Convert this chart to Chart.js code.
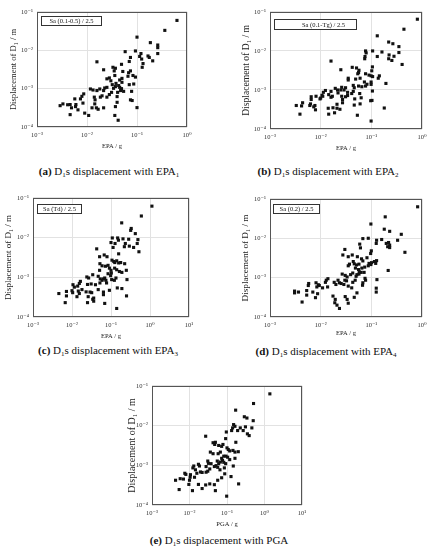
<!DOCTYPE html>
<html>
<head>
<meta charset="utf-8">
<script src="https://cdn.jsdelivr.net/npm/chart.js@4.4.1/dist/chart.umd.min.js"></script>
<style>
  body { margin: 0; background: #fff; width: 436px; height: 550px; position: relative; overflow: hidden; font-family: "Liberation Serif", "DejaVu Serif", serif; }
  canvas { position: absolute; }
  .cap { position: absolute; font-size: 11px; line-height: 13px; color: #111; white-space: nowrap; transform: translateX(-50%); }
  .cap sub { font-size: 7px; vertical-align: -2px; line-height: 0; }
</style>
</head>
<body>
<canvas id="chartA" width="188" height="146" style="left:9px;top:4px"></canvas>
<canvas id="chartB" width="191" height="148" style="left:241px;top:4px"></canvas>
<canvas id="chartC" width="196" height="150" style="left:3px;top:190px"></canvas>
<canvas id="chartD" width="192" height="146" style="left:240px;top:191px"></canvas>
<canvas id="chartE" width="186" height="150" style="left:126px;top:378px"></canvas>

<div class="cap" style="left:109px;top:165px"><b>(a)</b> D<sub>1</sub>s displacement with EPA<sub>1</sub></div>
<div class="cap" style="left:328px;top:165px"><b>(b)</b> D<sub>1</sub>s displacement with EPA<sub>2</sub></div>
<div class="cap" style="left:108px;top:344px"><b>(c)</b> D<sub>1</sub>s displacement with EPA<sub>3</sub></div>
<div class="cap" style="left:326px;top:345px"><b>(d)</b> D<sub>1</sub>s displacement with EPA<sub>4</sub></div>
<div class="cap" style="left:219px;top:534px"><b>(e)</b> D<sub>1</sub>s displacement with PGA</div>

<script>
// tick values / labels
const xTicks3 = [1e-3, 1e-2, 1e-1, 1];
const xLabels3 = ["10⁻³", "10⁻²", "10⁻¹", "10⁰"];
const xTicks4 = [1e-3, 1e-2, 1e-1, 1, 10];
const xLabels4 = ["10⁻³", "10⁻²", "10⁻¹", "10⁰", "10¹"];
const yTicks = [1e-4, 1e-3, 1e-2, 1e-1];
const yLabels = ["10⁻⁴", "10⁻³", "10⁻²", "10⁻¹"];

// (a) Sa(0.1-0.5)/2.5
const epa1 = [0.63, 0.36, 0.1, 0.185, 0.26, 0.26, 0.058, 0.093, 0.12, 0.113, 0.124, 0.166, 0.176, 0.26, 0.206, 0.132, 0.127, 0.074, 0.07, 0.049,
  0.0158, 0.0215, 0.033, 0.037, 0.035, 0.052, 0.068, 0.074, 0.083, 0.093, 0.066, 0.05, 0.045, 0.036, 0.028, 0.025, 0.03, 0.032, 0.038, 0.037,
  0.043, 0.05, 0.049, 0.045, 0.047, 0.054, 0.041, 0.034, 0.07, 0.086, 0.078, 0.074, 0.08, 0.1, 0.04, 0.04, 0.037, 0.036, 0.042, 0.0117,
  0.0132, 0.0158, 0.018, 0.0226, 0.025, 0.0215, 0.028, 0.02, 0.0185, 0.014, 0.0145, 0.0086, 0.0079, 0.0074, 0.0057, 0.0083, 0.006, 0.0059, 0.0046, 0.0029,
  0.0033, 0.0041, 0.0049, 0.0046, 0.0066, 0.009, 0.0108, 0.0126, 0.0154, 0.0167, 0.0215, 0.0143, 0.025, 0.031];
const dispA = [0.06, 0.033, 0.022, 0.0158, 0.0137, 0.0117, 9.2e-3, 9.6e-3, 8.2e-3, 6.9e-3, 5.9e-3, 7.1e-3, 6.5e-3, 8.2e-3, 5.3e-3, 4.5e-3, 3.6e-3, 6.5e-3, 5.1e-3, 4.3e-3,
  5e-3, 3.1e-3, 3.6e-3, 3.4e-3, 2.9e-3, 2.8e-3, 2.6e-3, 2.9e-3, 2.2e-3, 2.0e-3, 2.1e-3, 1.85e-3, 1.68e-3, 2.2e-3, 1.9e-3, 1.8e-3, 1.6e-3, 1.27e-3, 1.37e-3, 1.13e-3,
  1.2e-3, 1.46e-3, 1.0e-3, 1.08e-3, 8.9e-4, 8.5e-4, 8.0e-4, 1.02e-3, 1.27e-3, 1.32e-3, 8.5e-4, 5.1e-4, 4.9e-4, 3.2e-4, 6.2e-4, 4.4e-4, 3.4e-4, 2.0e-4, 1.5e-4, 9.8e-4,
  9.2e-4, 8.9e-4, 9.8e-4, 1.04e-3, 1.08e-3, 8.9e-4, 7.0e-4, 6.5e-4, 6.0e-4, 6.0e-4, 5.1e-4, 7.3e-4, 6.3e-4, 5.4e-4, 5.4e-4, 4.2e-4, 3.85e-4, 3.4e-4, 3.85e-4, 3.6e-4,
  4.0e-4, 3.8e-4, 3.16e-4, 2.1e-4, 2.8e-4, 2.3e-4, 2.0e-4, 3.16e-4, 3.16e-4, 2.9e-4, 3.16e-4, 4.0e-4, 6.0e-4, 8.0e-4];

// (b) Sa(0.1-Tg)/2.5
const epa2 = [0.81, 0.44, 0.131, 0.22, 0.266, 0.35, 0.077, 0.079, 0.075, 0.074, 0.106, 0.162, 0.35, 0.224, 0.28, 0.22, 0.254, 0.131, 0.405, 0.016,
  0.025, 0.042, 0.051, 0.057, 0.056, 0.054, 0.105, 0.102, 0.077, 0.09, 0.099, 0.106, 0.144, 0.137, 0.035, 0.035, 0.049, 0.06, 0.073, 0.082,
  0.077, 0.099, 0.099, 0.194, 0.056, 0.065, 0.044, 0.046, 0.044, 0.041, 0.026, 0.025, 0.031, 0.029, 0.034, 0.0194, 0.0215, 0.022, 0.016, 0.016,
  0.017, 0.0124, 0.0113, 0.0106, 0.01, 0.011, 0.0144, 0.059, 0.063, 0.047, 0.06, 0.105, 0.103, 0.097, 0.026, 0.027, 0.031, 0.034, 0.027, 0.021,
  0.0081, 0.0065, 0.0065, 0.0097, 0.0063, 0.0061, 0.0077, 0.0073, 0.0079, 0.0044, 0.0042, 0.0033, 0.0039, 0.0141, 0.0175, 0.021, 0.0188, 0.024, 0.046, 0.053,
  0.18, 0.099, 0.0144];
const dispB = [0.065, 0.036, 0.0244, 0.0169, 0.0153, 0.0129, 0.01, 8.9e-3, 7.2e-3, 6.3e-3, 0.01, 9.4e-3, 9.1e-3, 7.9e-3, 7.3e-3, 6.3e-3, 5.7e-3, 7.2e-3, 4.5e-3, 5.5e-3,
  3.3e-3, 3.8e-3, 3.66e-3, 3.2e-3, 2.8e-3, 2.6e-3, 3.9e-3, 3.1e-3, 2.6e-3, 2.4e-3, 2.3e-3, 2.2e-3, 2.3e-3, 2.0e-3, 2.0e-3, 1.8e-3, 1.9e-3, 2.0e-3, 1.6e-3, 1.4e-3,
  1.26e-3, 1.6e-3, 1.39e-3, 1.47e-3, 1.26e-3, 1.21e-3, 1.31e-3, 1.14e-3, 9.2e-4, 8.1e-4, 1.17e-3, 1.0e-3, 1.14e-3, 1.0e-3, 8.7e-4, 1.1e-3, 1.0e-3, 8.4e-4, 9.2e-4, 6.5e-4,
  6.9e-4, 9.7e-4, 8.7e-4, 7.3e-4, 6.2e-4, 6.9e-4, 7.6e-4, 8.1e-4, 6.3e-4, 5.9e-4, 4.4e-4, 9.4e-4, 5.4e-4, 5.3e-4, 6.9e-4, 5.7e-4, 6.7e-4, 7.2e-4, 4.7e-4, 4.3e-4,
  6.9e-4, 6.7e-4, 5.7e-4, 5.9e-4, 4.4e-4, 4.0e-4, 4.0e-4, 3.7e-4, 3.1e-4, 4.7e-4, 3.9e-4, 4.0e-4, 2.4e-4, 3.4e-4, 3.5e-4, 3.4e-4, 2.6e-4, 3.2e-4, 4.1e-4, 2.25e-4,
  3.45e-4, 1.6e-4, 2.4e-4];

// (c) Sa(Td)/2.5
const epa3 = [1.12, 0.6, 0.188, 0.33, 0.32, 0.42, 0.108, 0.148, 0.155, 0.203, 0.284, 0.49, 0.1, 0.127, 0.113, 0.233, 0.22, 0.295, 0.38, 0.47,
  0.52, 0.043, 0.051, 0.067, 0.079, 0.157, 0.106, 0.118, 0.125, 0.14, 0.157, 0.177, 0.224, 0.052, 0.059, 0.072, 0.084, 0.091, 0.1, 0.102,
  0.084, 0.098, 0.124, 0.14, 0.164, 0.19, 0.247, 0.051, 0.034, 0.024, 0.0267, 0.047, 0.053, 0.059, 0.064, 0.069, 0.074, 0.104, 0.077, 0.052,
  0.04, 0.031, 0.025, 0.0164, 0.0154, 0.014, 0.0106, 0.0115, 0.257, 0.145, 0.19, 0.134, 0.122, 0.047, 0.064, 0.064, 0.091, 0.023, 0.029, 0.032,
  0.018, 0.0145, 0.0154, 0.0134, 0.01, 0.0072, 0.0072, 0.0104, 0.0046, 0.0067, 0.026, 0.036, 0.034, 0.036, 0.025, 0.069, 0.14, 0.25];
const dispC = [0.062, 0.035, 0.0235, 0.017, 0.0152, 0.0126, 9.8e-3, 9.8e-3, 8.6e-3, 9.3e-3, 9.1e-3, 8.9e-3, 7.5e-3, 7.1e-3, 5.65e-3, 7.1e-3, 5.9e-3, 6.1e-3, 5.65e-3, 7.1e-3,
  4.4e-3, 5.2e-3, 3.3e-3, 3.65e-3, 3.3e-3, 3.9e-3, 2.7e-3, 2.5e-3, 2.35e-3, 2.6e-3, 2.3e-3, 2.35e-3, 2.2e-3, 2.2e-3, 1.95e-3, 1.9e-3, 2.0e-3, 1.7e-3, 1.5e-3, 1.28e-3,
  1.23e-3, 1.1e-3, 1.7e-3, 1.55e-3, 1.4e-3, 1.33e-3, 1.5e-3, 1.5e-3, 1.16e-3, 1.02e-3, 9.6e-4, 1.06e-3, 9.1e-4, 8.4e-4, 9.1e-4, 9.6e-4, 8.4e-4, 8.75e-4, 7.2e-4, 7.2e-4,
  6.5e-4, 6.8e-4, 6.6e-4, 7.9e-4, 7.0e-4, 6.0e-4, 6.5e-4, 5.65e-4, 8.75e-4, 5.4e-4, 5.2e-4, 9.6e-4, 8.4e-4, 4.9e-4, 4.25e-4, 3.65e-4, 4.7e-4, 4.3e-4, 4.25e-4, 4.1e-4,
  4.9e-4, 4.5e-4, 3.9e-4, 3.25e-4, 4.6e-4, 4.4e-4, 3.4e-4, 4.1e-4, 3.9e-4, 2.3e-4, 3.25e-4, 3.0e-4, 2.8e-4, 2.5e-4, 2.3e-4, 2.2e-4, 1.64e-4, 3.4e-4];

// (d) Sa(0.2)/2.5
const epa4 = [0.82, 0.188, 0.098, 0.18, 0.23, 0.39, 0.068, 0.087, 0.127, 0.125, 0.16, 0.197, 0.219, 0.23, 0.21, 0.23, 0.33, 0.059, 0.061, 0.46,
  0.03, 0.0274, 0.1, 0.097, 0.042, 0.035, 0.053, 0.064, 0.068, 0.044, 0.082, 0.09, 0.101, 0.115, 0.122, 0.127, 0.037, 0.035, 0.046, 0.051,
  0.057, 0.065, 0.074, 0.087, 0.098, 0.0485, 0.056, 0.058, 0.063, 0.057, 0.052, 0.05, 0.072, 0.215, 0.0266, 0.0305, 0.0333, 0.039, 0.043, 0.048,
  0.043, 0.075, 0.077, 0.068, 0.067, 0.129, 0.022, 0.0235, 0.0254, 0.0287, 0.0324, 0.03, 0.0185, 0.02, 0.0139, 0.0129, 0.0124, 0.0137, 0.0081, 0.0094,
  0.009, 0.0084, 0.0109, 0.035, 0.041, 0.052, 0.125, 0.125, 0.0058, 0.0057, 0.00305, 0.00305, 0.00365, 0.0053, 0.0053, 0.007, 0.0043, 0.0087, 0.0079, 0.0175,
  0.0194, 0.019, 0.021, 0.0235, 0.0305, 0.0333, 0.035, 0.046];
const dispD = [0.063, 0.035, 0.023, 0.017, 0.015, 0.0126, 9.8e-3, 0.01, 8.9e-3, 7.4e-3, 9.3e-3, 7.4e-3, 7.8e-3, 6.7e-3, 6.1e-3, 5.8e-3, 8.9e-3, 7.1e-3, 5.7e-3, 4.4e-3,
  5.2e-3, 3.76e-3, 4.8e-3, 4.1e-3, 3.76e-3, 3.4e-3, 3.4e-3, 3.0e-3, 2.66e-3, 2.56e-3, 3.2e-3, 2.3e-3, 2.4e-3, 2.56e-3, 2.3e-3, 2.7e-3, 2.2e-3, 2.0e-3, 2.24e-3, 2.1e-3,
  2.2e-3, 1.75e-3, 1.85e-3, 2.0e-3, 2.15e-3, 1.75e-3, 1.6e-3, 1.4e-3, 1.36e-3, 1.23e-3, 1.19e-3, 1.08e-3, 1.36e-3, 1.52e-3, 1.23e-3, 1.14e-3, 1.04e-3, 1.19e-3, 1.31e-3, 8.6e-4,
  7.6e-4, 9.6e-4, 8.6e-4, 7.4e-4, 6.4e-4, 8.9e-4, 8.6e-4, 7.4e-4, 7.1e-4, 6.7e-4, 8.3e-4, 8.6e-4, 7.6e-4, 6.7e-4, 9.4e-4, 8.6e-4, 7.6e-4, 5.8e-4, 7.4e-4, 6.3e-4,
  6.6e-4, 5.8e-4, 5.5e-4, 6.1e-4, 5.5e-4, 4.1e-4, 5.4e-4, 4.3e-4, 7.1e-4, 6.3e-4, 4.55e-4, 4.1e-4, 4.3e-4, 4.7e-4, 3.6e-4, 4.3e-4, 2.4e-4, 3.9e-4, 3.1e-4, 3.4e-4,
  2.8e-4, 2.3e-4, 2.0e-4, 1.65e-4, 3.3e-4, 2.8e-4, 2.24e-4, 3.16e-4];

// (e) PGA
const pga = [1.39, 0.51, 0.17, 0.29, 0.34, 0.5, 0.15, 0.163, 0.141, 0.133, 0.226, 0.31, 0.46, 0.192, 0.27, 0.35, 0.39, 0.096, 0.027, 0.092,
  0.172, 0.0425, 0.049, 0.047, 0.06, 0.072, 0.078, 0.1, 0.108, 0.118, 0.036, 0.0425, 0.058, 0.0665, 0.082, 0.072, 0.076, 0.144, 0.163, 0.2,
  0.094, 0.104, 0.118, 0.055, 0.0665, 0.06, 0.051, 0.046, 0.082, 0.092, 0.085, 0.163, 0.147, 0.0307, 0.032, 0.0376, 0.0173, 0.0184, 0.013, 0.0123,
  0.0144, 0.0277, 0.0347, 0.0307, 0.0277, 0.0217, 0.0196, 0.0157, 0.0136, 0.0106, 0.0104, 0.01, 0.0075, 0.008, 0.0069, 0.00565, 0.00425, 0.0053, 0.0096, 0.012,
  0.0173, 0.0217, 0.027, 0.0347, 0.046, 0.0565, 0.072, 0.087, 0.128, 0.049, 0.098, 0.204, 0.065, 0.0565];
const dispE = [0.063, 0.036, 0.0245, 0.0167, 0.0155, 0.0133, 0.0106, 9.6e-3, 8.75e-3, 7.5e-3, 8.75e-3, 9.3e-3, 8.75e-3, 7.5e-3, 7.5e-3, 6.2e-3, 5.6e-3, 6.9e-3, 5.4e-3, 4.7e-3,
  3.8e-3, 3.7e-3, 3.8e-3, 3.35e-3, 3.16e-3, 3.0e-3, 3.35e-3, 2.75e-3, 2.5e-3, 2.3e-3, 2.15e-3, 1.96e-3, 1.96e-3, 2.15e-3, 1.7e-3, 1.5e-3, 1.33e-3, 2.37e-3, 2.15e-3, 2.2e-3,
  1.7e-3, 1.6e-3, 1.39e-3, 1.28e-3, 1.21e-3, 1.1e-3, 9.8e-4, 9.3e-4, 1.19e-3, 1.1e-3, 8.6e-4, 1.5e-3, 9.6e-4, 1.28e-3, 1.12e-3, 1.1e-3, 1.06e-3, 9.6e-4, 9.6e-4, 8.6e-4,
  7.7e-4, 9.3e-4, 8.1e-4, 7.1e-4, 6.7e-4, 6.6e-4, 6.8e-4, 6.3e-4, 5.0e-4, 5.8e-4, 5.0e-4, 4.2e-4, 6.3e-4, 5.9e-4, 4.5e-4, 4.6e-4, 4.2e-4, 2.45e-4, 3.3e-4, 2.3e-4,
  3.3e-4, 2.6e-4, 3.2e-4, 3.4e-4, 3.25e-4, 4.2e-4, 4.85e-4, 6.1e-4, 5.2e-4, 2.3e-4, 1.67e-4, 3.4e-4, 7.7e-4, 8.9e-4];

const serif = "'Liberation Serif', 'DejaVu Serif', serif";

// dark frame round the plot area
const framePlugin = {
  id: "frame",
  beforeDatasetsDraw(chart) {
    const { ctx, chartArea: a } = chart;
    ctx.save();
    ctx.strokeStyle = "#555";
    ctx.lineWidth = 1;
    ctx.strokeRect(Math.round(a.left) + 0.5, Math.round(a.top) + 0.5, Math.round(a.width) - 1, Math.round(a.height) - 1);
    ctx.restore();
  },
};

// boxed label in the upper-left corner
const boxPlugin = {
  id: "boxLabel",
  afterDatasetsDraw(chart, args, opts) {
    if (!opts || !opts.text) return;
    const { ctx, chartArea: a } = chart;
    const x = Math.round(a.left + opts.dx) + 0.5;
    const y = Math.round(a.top + opts.dy) + 0.5;
    ctx.save();
    ctx.fillStyle = "#fff";
    ctx.fillRect(x, y, opts.w, opts.h);
    ctx.strokeStyle = "#333";
    ctx.lineWidth = 1;
    ctx.strokeRect(x, y, opts.w, opts.h);
    ctx.fillStyle = "#111";
    ctx.font = "6.5px " + serif;
    ctx.textAlign = "center";
    ctx.textBaseline = "middle";
    ctx.fillText(opts.text, x + opts.w / 2 + (opts.tx || 0), y + opts.h / 2 + 0.5);
    ctx.restore();
  },
};

function makePanel(id, xs, ys, xTicks, xLabels, xTitle, yTitleSize, yW, xH, box) {
  const ctx = document.getElementById(id);
  return new Chart(ctx, {
    type: "scatter",
    data: {
      datasets: [
        {
          data: xs.map((x, i) => ({ x: x, y: ys[i] })),
          pointStyle: "rect",
          pointRadius: 2.2,
          pointHoverRadius: 2.2,
          backgroundColor: "#111",
          borderWidth: 0,
        },
      ],
    },
    options: {
      responsive: false,
      animation: false,
      events: [],
      layout: { padding: { top: 6, right: 10, left: 0, bottom: 0 } },
      plugins: { legend: { display: false }, tooltip: { enabled: false }, boxLabel: box },
      scales: {
        x: {
          type: "logarithmic",
          min: xTicks[0],
          max: xTicks[xTicks.length - 1],
          afterBuildTicks: (s) => { s.ticks = xTicks.map((v) => ({ value: v })); },
          afterFit: (s) => { s.height = xH; },
          ticks: { autoSkip: false, maxRotation: 0, padding: 4, color: "#333", font: { family: serif, size: 6.5 }, callback: (v, i) => xLabels[i] },
          grid: { color: "#e2e2e2", drawTicks: false },
          border: { display: false },
          title: { display: true, text: xTitle, padding: 0, color: "#222", font: { family: serif, size: 6.5 } },
        },
        y: {
          type: "logarithmic",
          min: yTicks[0],
          max: yTicks[yTicks.length - 1],
          afterBuildTicks: (s) => { s.ticks = yTicks.map((v) => ({ value: v })); },
          afterFit: (s) => { s.width = yW; },
          ticks: { autoSkip: false, padding: 4, color: "#333", font: { family: serif, size: 6.5 }, callback: (v, i) => yLabels[i] },
          grid: { color: "#e2e2e2", drawTicks: false },
          border: { display: false },
          title: { display: true, text: "Displacement of D₁ / m", padding: 0, color: "#222", font: { family: serif, size: yTitleSize } },
        },
      },
    },
    plugins: [framePlugin, boxPlugin],
  });
}

makePanel("chartA", epa1, dispA, xTicks3, xLabels3, "EPA / g", 8.6, 28, 23, { text: "Sa (0.1-0.5) / 2.5", dx: 4, dy: 4, w: 60, h: 9 });
makePanel("chartB", epa2, dispB, xTicks3, xLabels3, "EPA / g", 9.6, 29, 23, { text: "Sa (0.1-Tg) / 2.5", dx: 4, dy: 7, w: 82, h: 10, tx: 8 });
makePanel("chartC", epa3, dispC, xTicks4, xLabels4, "EPA / g", 9, 30, 23, { text: "Sa (Td) / 2.5", dx: 4, dy: 6, w: 44, h: 9 });
makePanel("chartD", epa4, dispD, xTicks3, xLabels3, "EPA / g", 9.2, 30, 20, { text: "Sa (0.2) / 2.5", dx: 3, dy: 5, w: 46, h: 9 });
makePanel("chartE", pga, dispE, xTicks4, xLabels4, "PGA / g", 10, 26, 23, null);
</script>
</body>
</html>
